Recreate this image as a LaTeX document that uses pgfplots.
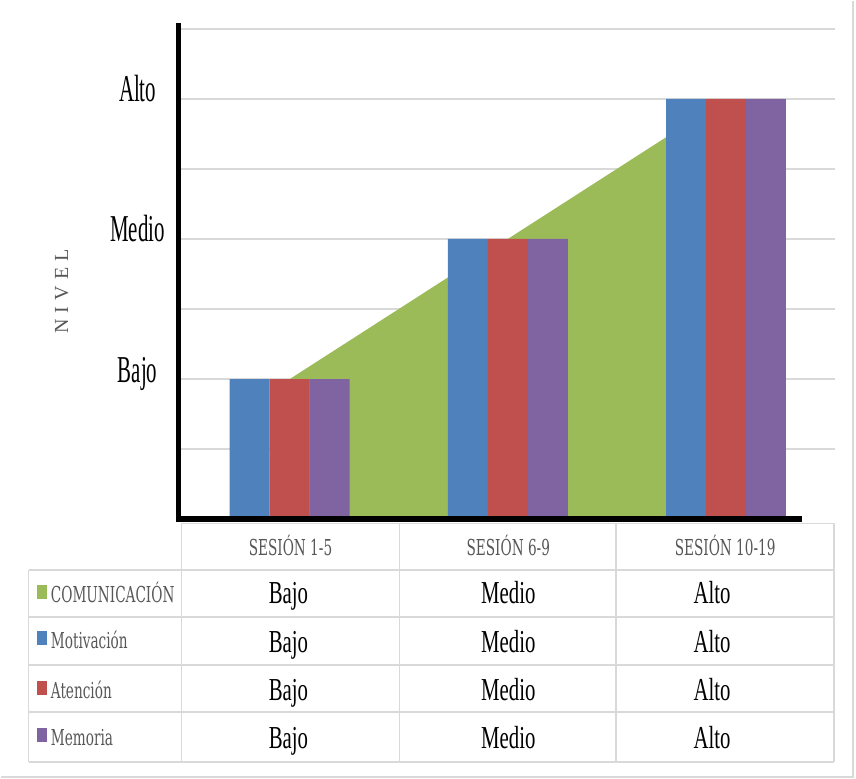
\documentclass[border=0pt]{standalone}
\usepackage{fontspec}
\setmainfont{Liberation Serif}
\usepackage{pgfplots}
\pgfplotsset{compat=1.18}

\newfontfamily\tickfont[FakeStretch=0.55]{Liberation Serif}
\newfontfamily\valfont[FakeStretch=0.65]{Liberation Serif}
\newfontfamily\lblfont[FakeStretch=0.62]{DejaVu Serif}
\newfontfamily\nivfont[LetterSpace=30]{Liberation Serif}

\definecolor{cblue}{HTML}{4F81BD}
\definecolor{cred}{HTML}{C0504D}
\definecolor{cpurple}{HTML}{8064A2}
\definecolor{cgreen}{HTML}{9BBB59}
\definecolor{gridgray}{HTML}{D9D9D9}
\definecolor{txtgray}{HTML}{575757}

\begin{document}
\begin{tikzpicture}
\path (0,0) rectangle (856pt,778pt);
% shadow-like frame, bottom and right
\draw[gridgray, line width=1.5pt] (0pt,1pt) -- (853pt,1pt) -- (853pt,778pt);

\begin{axis}[
    at={(180pt,259pt)}, anchor=south west,
    scale only axis, width=655pt, height=491pt,
    xmin=0.5, xmax=3.5, ymin=0, ymax=3.5,
    axis line style={draw=none},
    xtick=\empty,
    ytick={1,2,3},
    yticklabels={Bajo,Medio,Alto},
    minor ytick={0.5,1.5,2.5,3.5},
    ymajorgrids, yminorgrids,
    major grid style={gridgray, line width=2pt},
    minor grid style={gridgray, line width=2pt},
    major tick length=0pt, minor tick length=0pt,
    yticklabel style={font=\tickfont\fontsize{38pt}{40pt}\selectfont,
        anchor=base, xshift=-43pt, yshift=-3pt},
    clip=false,
  ]
  % COMUNICACION (area)
  \addplot[fill=cgreen, draw=none] coordinates {(1,1) (2,2) (3,3)} \closedcycle;
  % Motivacion
  \addplot[ybar, bar width=40pt, bar shift=-40pt, fill=cblue, draw=none]
    coordinates {(1,1) (2,2) (3,3)};
  % Atencion
  \addplot[ybar, bar width=40pt, bar shift=0pt, fill=cred, draw=none]
    coordinates {(1,1) (2,2) (3,3)};
  % Memoria
  \addplot[ybar, bar width=40pt, bar shift=40pt, fill=cpurple, draw=none]
    coordinates {(1,1) (2,2) (3,3)};

  \draw[black, line width=4.5pt] (rel axis cs:-0.003,-0.006) -- (rel axis cs:-0.003,1.012);
  \draw[black, line width=6pt] (rel axis cs:-0.005,0) -- (rel axis cs:0.95,0);
\end{axis}

\node[txtgray, rotate=90, font=\nivfont\fontsize{20pt}{22pt}\selectfont] at (61pt,487pt) {NIVEL};

% data table
\begin{scope}[gridgray, line width=1.5pt]
  \draw (181pt,255pt) -- (834pt,255pt);
  \foreach \y in {208,161,113,66,16} \draw (28pt,\y pt) -- (834pt,\y pt);
  \draw (28pt,208pt) -- (28pt,16pt);
  \foreach \x in {181,399,616,834} \draw (\x pt,255pt) -- (\x pt,16pt);
\end{scope}

\begin{scope}[every node/.style={inner sep=0pt, anchor=base}]
  \foreach \x/\t in {290/SESIÓN 1-5, 508/SESIÓN 6-9, 725/SESIÓN 10-19}
    \node[txtgray, font=\lblfont\fontsize{22pt}{24pt}\selectfont] at (\x pt,223pt) {\t};
  \foreach \y in {175,126,78,30} {
    \node[font=\valfont\fontsize{32pt}{34pt}\selectfont] at (288pt,\y pt) {Bajo};
    \node[font=\valfont\fontsize{32pt}{34pt}\selectfont] at (508pt,\y pt) {Medio};
    \node[font=\valfont\fontsize{32pt}{34pt}\selectfont] at (712pt,\y pt) {Alto};
  }
  \foreach \y/\c/\t in {176/cgreen/COMUNICACIÓN, 130/cblue/Motivación, 80/cred/Atención, 33/cpurple/Memoria} {
    \fill[\c] (36pt,\y pt+3pt) rectangle ++(10pt,14pt);
    \node[txtgray, anchor=base west, font=\lblfont\fontsize{22pt}{24pt}\selectfont] at (50pt,\y pt) {\t};
  }
\end{scope}
\end{tikzpicture}
\end{document}
